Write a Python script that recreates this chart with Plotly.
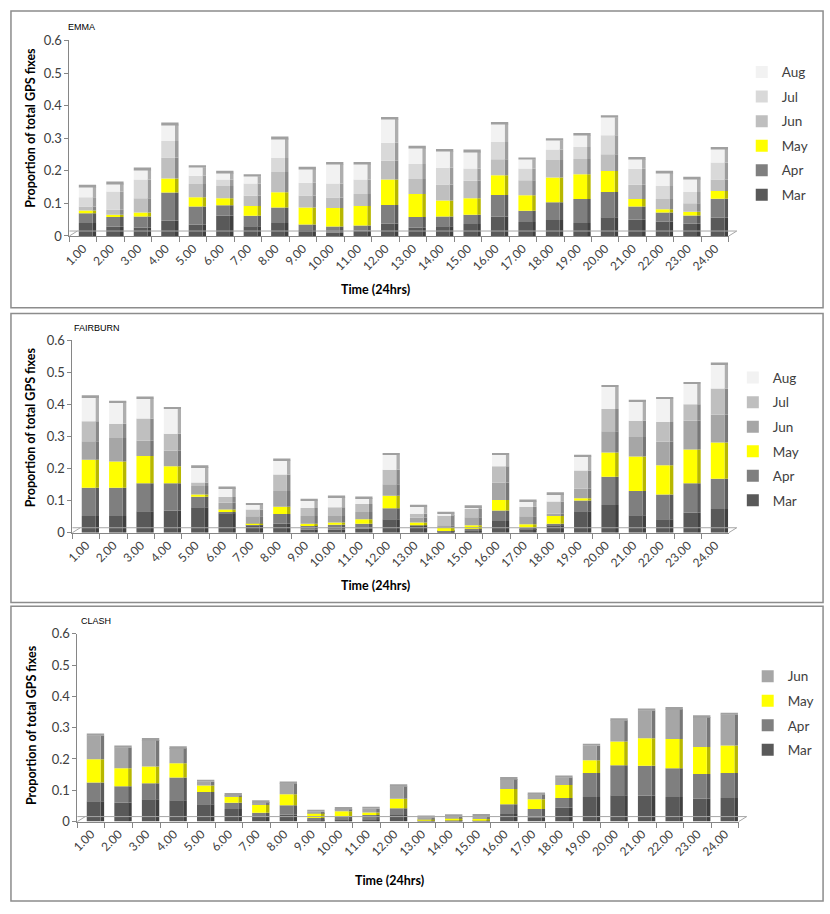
import numpy as np
import plotly.graph_objects as go

W, H = 830, 914

hours = [f"{h}.00" for h in range(1, 25)]

# ---------------- EMMA ----------------
emma_mar = [0.040, 0.028, 0.025, 0.047, 0.034, 0.063, 0.030, 0.040, 0.018, 0.010, 0.017, 0.038,
            0.025, 0.030, 0.037, 0.060, 0.043, 0.049, 0.040, 0.057, 0.050, 0.044, 0.038, 0.056]
emma_apr = [0.030, 0.030, 0.035, 0.086, 0.056, 0.031, 0.032, 0.047, 0.017, 0.019, 0.015, 0.057,
            0.033, 0.030, 0.028, 0.066, 0.034, 0.054, 0.073, 0.078, 0.040, 0.028, 0.025, 0.058]
emma_may = [0.008, 0.007, 0.012, 0.043, 0.029, 0.022, 0.030, 0.047, 0.052, 0.057, 0.060, 0.078,
            0.071, 0.049, 0.051, 0.060, 0.048, 0.076, 0.076, 0.064, 0.023, 0.010, 0.011, 0.024]
emma_jun = [0.012, 0.015, 0.044, 0.065, 0.040, 0.037, 0.031, 0.062, 0.037, 0.032, 0.037, 0.058,
            0.046, 0.049, 0.053, 0.049, 0.046, 0.054, 0.047, 0.052, 0.044, 0.031, 0.026, 0.035]
emma_jul = [0.029, 0.056, 0.057, 0.050, 0.026, 0.020, 0.038, 0.043, 0.039, 0.043, 0.044, 0.055,
            0.046, 0.051, 0.038, 0.053, 0.036, 0.032, 0.037, 0.058, 0.049, 0.040, 0.035, 0.052]
emma_aug = [0.032, 0.025, 0.031, 0.051, 0.026, 0.021, 0.022, 0.060, 0.043, 0.060, 0.048, 0.073,
            0.050, 0.052, 0.052, 0.056, 0.028, 0.029, 0.037, 0.055, 0.030, 0.041, 0.041, 0.042]

# ---------------- FAIRBURN ----------------
fair_mar = [0.052, 0.052, 0.067, 0.069, 0.079, 0.059, 0.023, 0.028, 0.010, 0.010, 0.012, 0.042,
            0.021, 0.003, 0.005, 0.036, 0.011, 0.023, 0.067, 0.086, 0.054, 0.042, 0.062, 0.074]
fair_apr = [0.088, 0.088, 0.087, 0.085, 0.033, 0.005, 0.002, 0.030, 0.013, 0.015, 0.016, 0.034,
            0.002, 0.002, 0.006, 0.033, 0.004, 0.005, 0.033, 0.088, 0.076, 0.077, 0.092, 0.094]
fair_may = [0.087, 0.082, 0.085, 0.053, 0.007, 0.008, 0.003, 0.023, 0.005, 0.007, 0.014, 0.039,
            0.009, 0.010, 0.012, 0.033, 0.011, 0.024, 0.007, 0.076, 0.107, 0.091, 0.105, 0.113]
fair_jun = [0.058, 0.073, 0.047, 0.048, 0.026, 0.021, 0.023, 0.049, 0.024, 0.020, 0.022, 0.036,
            0.015, 0.008, 0.025, 0.054, 0.025, 0.007, 0.030, 0.066, 0.061, 0.073, 0.090, 0.086]
fair_jul = [0.062, 0.044, 0.070, 0.053, 0.011, 0.018, 0.021, 0.051, 0.025, 0.027, 0.025, 0.045,
            0.012, 0.031, 0.026, 0.051, 0.030, 0.038, 0.057, 0.069, 0.051, 0.062, 0.051, 0.082]
fair_aug = [0.075, 0.066, 0.062, 0.077, 0.048, 0.027, 0.014, 0.044, 0.023, 0.031, 0.018, 0.046,
            0.022, 0.005, 0.005, 0.035, 0.016, 0.023, 0.043, 0.069, 0.059, 0.072, 0.063, 0.075]

# ---------------- CLASH ----------------
clash_mar = [0.065, 0.061, 0.071, 0.068, 0.055, 0.040, 0.016, 0.022, 0.005, 0.005, 0.005, 0.021,
             0.002, 0.001, 0.002, 0.024, 0.014, 0.045, 0.078, 0.084, 0.082, 0.078, 0.073, 0.075]
clash_apr = [0.060, 0.052, 0.051, 0.073, 0.039, 0.020, 0.012, 0.030, 0.006, 0.010, 0.016, 0.021,
             0.001, 0.002, 0.002, 0.031, 0.026, 0.030, 0.077, 0.096, 0.096, 0.092, 0.079, 0.080]
clash_may = [0.074, 0.057, 0.054, 0.045, 0.021, 0.018, 0.025, 0.035, 0.016, 0.018, 0.008, 0.031,
             0.005, 0.008, 0.004, 0.049, 0.031, 0.042, 0.041, 0.076, 0.088, 0.094, 0.086, 0.088]
clash_jun = [0.076, 0.067, 0.085, 0.049, 0.012, 0.007, 0.009, 0.035, 0.004, 0.007, 0.012, 0.040,
             0.005, 0.006, 0.010, 0.032, 0.016, 0.024, 0.046, 0.068, 0.089, 0.096, 0.096, 0.099]

panel_titles = ["EMMA", "FAIRBURN", "CLASH"]
month_names = ["Mar", "Apr", "May", "Jun", "Jul", "Aug"]

panels = [
    dict(title="EMMA",
         series=[emma_mar, emma_apr, emma_may, emma_jun, emma_jul, emma_aug],
         colors=["#595959", "#7f7f7f", "#ffff00", "#bfbfbf", "#d9d9d9", "#f2f2f2"],
         px_x=(63, 728), px_y=(33, 232), box=(4, 3, 823, 305),
         title_px=(60, 19), legend_px=(741, 128), xt_px=(372, 287), yt_px=(24, 122)),
    dict(title="FAIRBURN",
         series=[fair_mar, fair_apr, fair_may, fair_jun, fair_jul, fair_aug],
         colors=["#595959", "#7f7f7f", "#ffff00", "#a6a6a6", "#bfbfbf", "#f2f2f2"],
         px_x=(66, 728), px_y=(338, 534), box=(4, 311, 823, 605),
         title_px=(66, 326), legend_px=(732, 439), xt_px=(372, 588), yt_px=(24, 427)),
    dict(title="CLASH",
         series=[clash_mar, clash_apr, clash_may, clash_jun],
         colors=["#595959", "#7f7f7f", "#ffff00", "#a6a6a6"],
         px_x=(71, 738), px_y=(637, 828), box=(4, 609, 823, 909),
         title_px=(73, 624), legend_px=(747, 718), xt_px=(386, 888), yt_px=(24, 730)),
]


def darker(hexcol, f=0.72):
    h = hexcol.lstrip("#")
    r, g, b = (int(h[i:i + 2], 16) for i in (0, 2, 4))
    return "#%02x%02x%02x" % (int(r * f), int(g * f), int(b * f))


def px2x(px):
    return px / W


def px2y(py):
    return 1 - py / H


fig = go.Figure()
layout = dict(
    width=W, height=H, margin=dict(l=0, r=0, t=0, b=0),
    paper_bgcolor="white", plot_bgcolor="rgba(0,0,0,0)",
    barmode="overlay", showlegend=True,
    font=dict(family="Lato, Liberation Sans, sans-serif", color="#404040"),
)
shapes = []
annotations = []

FRONT_OFF, FRONT_W = -0.16, 0.50
SIDE_OFF, SIDE_W = 0.34, 0.13

for i, p in enumerate(panels):
    n = i + 1
    xa = "x" if n == 1 else f"x{n}"
    ya = "y" if n == 1 else f"y{n}"
    lg = "legend" if n == 1 else f"legend{n}"
    arr = np.array(p["series"])
    bases = np.vstack([np.zeros(arr.shape[1]), np.cumsum(arr, axis=0)[:-1]])
    for k in range(arr.shape[0]):
        # right-hand side face (3D look)
        fig.add_trace(go.Bar(
            x=hours, y=arr[k], base=bases[k], xaxis=xa, yaxis=ya,
            width=SIDE_W, offset=SIDE_OFF,
            marker=dict(color=darker(p["colors"][k]), line=dict(width=0)),
            showlegend=False, hoverinfo="skip"))
        # front face
        fig.add_trace(go.Bar(
            x=hours, y=arr[k], base=bases[k], xaxis=xa, yaxis=ya,
            width=FRONT_W, offset=FRONT_OFF, name=month_names[k],
            legend=lg, legendgroup=f"{n}{month_names[k]}", legendrank=100 - k,
            marker=dict(color=p["colors"][k], line=dict(width=0))))
    # top cap of each stack
    tot = arr.sum(axis=0)
    fig.add_trace(go.Bar(
        x=hours, y=[0.006] * len(hours), base=tot, xaxis=xa, yaxis=ya,
        width=FRONT_W + SIDE_W, offset=FRONT_OFF,
        marker=dict(color="#a0a0a0", line=dict(width=0)),
        showlegend=False, hoverinfo="skip"))

    x0, x1 = p["px_x"]
    ytop, ybot = p["px_y"]
    xkey = "xaxis" if n == 1 else f"xaxis{n}"
    ykey = "yaxis" if n == 1 else f"yaxis{n}"
    layout[xkey] = dict(
        domain=[px2x(x0), px2x(x1)], anchor=ya, type="category",
        showline=True, linecolor="#868686", linewidth=1,
        ticks="outside", tickson="boundaries", ticklen=5, tickcolor="#868686",
        tickangle=-45, tickfont=dict(size=12, color="#404040"),
        showgrid=False, zeroline=False, range=[-0.5, 23.5], fixedrange=True)
    layout[ykey] = dict(
        domain=[px2y(ybot), px2y(ytop)], anchor=xa,
        range=[0, 0.6], dtick=0.1, tick0=0,
        showline=True, linecolor="#868686", linewidth=1,
        ticks="outside", ticklen=4, tickcolor="#868686",
        tickfont=dict(size=13, color="#404040"),
        showgrid=False, zeroline=False, fixedrange=True)
    # floor back edge (3D floor)
    shapes.append(dict(type="line", xref=f"{xa} domain", yref="paper",
                       x0=0, x1=1.012, y0=px2y(ybot - 5), y1=px2y(ybot - 5),
                       line=dict(color="#a6a6a6", width=1)))
    shapes.append(dict(type="line", xref=f"{xa} domain", yref="paper",
                       x0=1.0, x1=1.012, y0=px2y(ybot), y1=px2y(ybot - 5),
                       line=dict(color="#a6a6a6", width=1)))
    shapes.append(dict(type="line", xref=f"{xa} domain", yref="paper",
                       x0=0, x1=0.012, y0=px2y(ybot), y1=px2y(ybot - 5),
                       line=dict(color="#a6a6a6", width=1)))
    # panel border
    bx0, by0, bx1, by1 = p["box"]
    shapes.append(dict(type="rect", xref="paper", yref="paper",
                       x0=px2x(bx0), x1=px2x(bx1), y0=px2y(by1), y1=px2y(by0),
                       line=dict(color="#8c8c8c", width=1.5), fillcolor="rgba(0,0,0,0)"))
    # titles
    tx, ty = p["title_px"]
    annotations.append(dict(text=p["title"], xref="paper", yref="paper",
                            x=px2x(tx), y=px2y(ty), xanchor="left", yanchor="middle",
                            showarrow=False,
                            font=dict(family="Liberation Sans, Arial", size=9, color="#000")))
    xtx, xty = p["xt_px"]
    annotations.append(dict(text="<b>Time (24hrs)</b>", xref="paper", yref="paper",
                            x=px2x(xtx), y=px2y(xty), xanchor="center", yanchor="middle",
                            showarrow=False,
                            font=dict(family="Lato, Liberation Sans", size=12.5, color="#000")))
    ytx, yty = p["yt_px"]
    annotations.append(dict(text="<b>Proportion of total GPS fixes</b>", xref="paper", yref="paper",
                            x=px2x(ytx), y=px2y(yty), xanchor="center", yanchor="middle",
                            textangle=-90, showarrow=False,
                            font=dict(family="Lato, Liberation Sans", size=12.5, color="#000")))
    lx, ly = p["legend_px"]
    layout[lg] = dict(x=px2x(lx), y=px2y(ly), xanchor="left", yanchor="middle",
                      traceorder="grouped", tracegroupgap=4,
                      bgcolor="rgba(0,0,0,0)", itemwidth=30,
                      font=dict(size=13.5, color="#404040"))

layout["shapes"] = shapes
layout["annotations"] = annotations
fig.update_layout(**layout)
fig.write_html("out.html")
